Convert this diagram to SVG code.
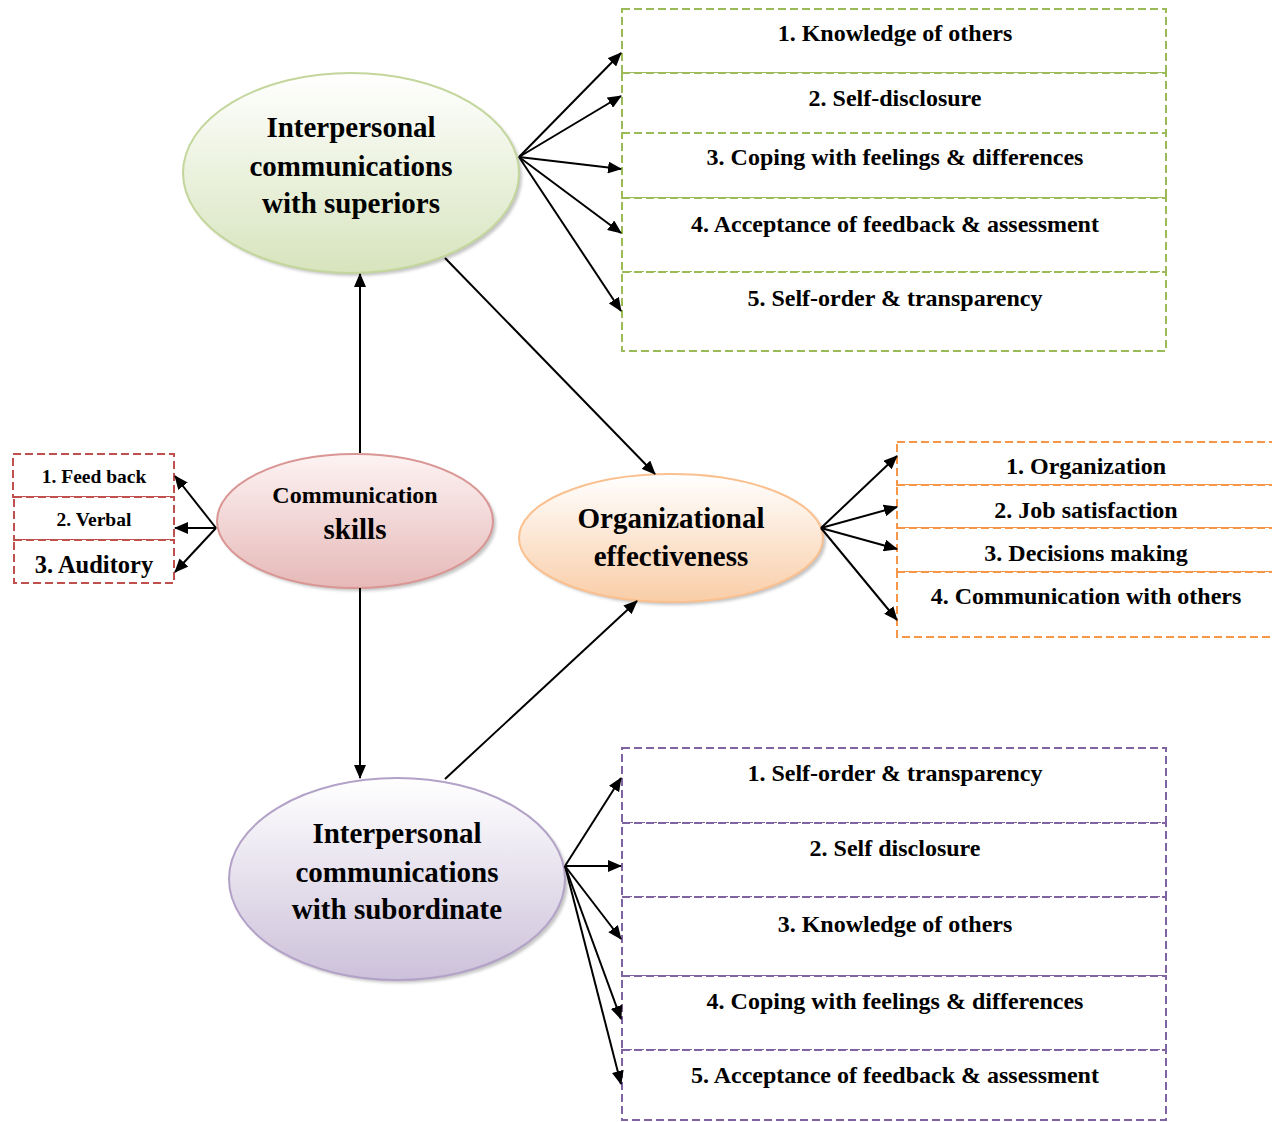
<svg xmlns="http://www.w3.org/2000/svg" width="1272" height="1122" viewBox="0 0 1272 1122">
<style>
text{font-family:"Liberation Serif","Times New Roman",serif;font-weight:bold;fill:#000;text-anchor:middle}
.t20{font-size:24px}
.t26{font-size:29px}
.box{fill:#fff;stroke-width:2;stroke-dasharray:8 4}
.g{stroke:#9bbb59}
.o{stroke:#f79646}
.p{stroke:#8064a2}
.r{stroke:#c0504d}
.con line{stroke:#000;stroke-width:2;marker-end:url(#ah)}
.shadow{fill:#7f7f7f;opacity:0.45;filter:url(#blur)}
</style>
<defs>
<marker id="ah" markerWidth="14" markerHeight="12" refX="13" refY="6" orient="auto" markerUnits="userSpaceOnUse">
<path d="M0,0 L14,6 L0,12 Z" fill="#000"/>
</marker>
<filter id="blur" x="-10%" y="-10%" width="120%" height="120%"><feGaussianBlur stdDeviation="1.5"/></filter>
<linearGradient id="gg" x1="0" y1="0" x2="0" y2="1"><stop offset="0" stop-color="#ffffff"/><stop offset="1" stop-color="#d7e4bd"/></linearGradient>
<linearGradient id="gr" x1="0" y1="0" x2="0" y2="1"><stop offset="0" stop-color="#fdf3f3"/><stop offset="1" stop-color="#e6b9b8"/></linearGradient>
<linearGradient id="go" x1="0" y1="0" x2="0" y2="1"><stop offset="0" stop-color="#ffffff"/><stop offset="1" stop-color="#f9cda7"/></linearGradient>
<linearGradient id="gp" x1="0" y1="0" x2="0" y2="1"><stop offset="0" stop-color="#ffffff"/><stop offset="1" stop-color="#ccc1da"/></linearGradient>
</defs>
<rect width="1272" height="1122" fill="#fff"/>

<g id="superiors-items">
<rect class="box g" x="622" y="9" width="544" height="64"/>
<rect class="box g" x="622" y="73" width="544" height="60"/>
<rect class="box g" x="622" y="133" width="544" height="65"/>
<rect class="box g" x="622" y="198" width="544" height="74"/>
<rect class="box g" x="622" y="272" width="544" height="79"/>
<text class="t20" x="895" y="41">1. Knowledge of others</text>
<text class="t20" x="895" y="106">2. Self-disclosure</text>
<text class="t20" x="895" y="165">3. Coping with feelings &amp; differences</text>
<text class="t20" x="895" y="232">4. Acceptance of feedback &amp; assessment</text>
<text class="t20" x="895" y="306">5. Self-order &amp; transparency</text>
</g>

<g id="skills-items">
<rect class="box r" x="13" y="454" width="161" height="43"/>
<rect class="box r" x="14" y="497" width="160" height="43"/>
<rect class="box r" x="14" y="540" width="160" height="43"/>
<text x="94" y="483" style="font-size:19.5px">1. Feed back</text>
<text x="94" y="526" style="font-size:19.5px">2. Verbal</text>
<text x="94" y="573" style="font-size:24.5px">3. Auditory</text>
</g>

<g id="effectiveness-items">
<rect class="box o" x="897" y="442" width="400" height="43"/>
<rect class="box o" x="897" y="485" width="400" height="43"/>
<rect class="box o" x="897" y="528" width="400" height="44"/>
<rect class="box o" x="897" y="572" width="400" height="65"/>
<text class="t20" x="1086" y="474">1. Organization</text>
<text class="t20" x="1086" y="518">2. Job satisfaction</text>
<text class="t20" x="1086" y="561">3. Decisions making</text>
<text class="t20" x="1086" y="604">4. Communication with others</text>
</g>

<g id="subordinate-items">
<rect class="box p" x="622" y="748" width="544" height="75"/>
<rect class="box p" x="622" y="823" width="544" height="74"/>
<rect class="box p" x="622" y="897" width="544" height="79"/>
<rect class="box p" x="622" y="976" width="544" height="74"/>
<rect class="box p" x="622" y="1050" width="544" height="70"/>
<text class="t20" x="895" y="781">1. Self-order &amp; transparency</text>
<text class="t20" x="895" y="856">2. Self disclosure</text>
<text class="t20" x="895" y="932">3. Knowledge of others</text>
<text class="t20" x="895" y="1009">4. Coping with feelings &amp; differences</text>
<text class="t20" x="895" y="1083">5. Acceptance of feedback &amp; assessment</text>
</g>

<g id="superiors">
<ellipse class="shadow" cx="354" cy="176" rx="168" ry="100"/>
<ellipse cx="351" cy="173" rx="168" ry="100" fill="url(#gg)" stroke="#c3d69b" stroke-width="2"/>
<text class="t26" x="351" y="137">Interpersonal</text>
<text class="t26" x="351" y="176">communications</text>
<text class="t26" x="351" y="213">with superiors</text>
</g>

<g id="skills">
<ellipse class="shadow" cx="358" cy="524" rx="138" ry="67"/>
<ellipse cx="355" cy="521" rx="138" ry="67" fill="url(#gr)" stroke="#d99694" stroke-width="2"/>
<text x="355" y="503" style="font-size:24px">Communication</text>
<text x="355" y="539" style="font-size:29px">skills</text>
</g>

<g id="effectiveness">
<ellipse class="shadow" cx="674" cy="541" rx="152" ry="64"/>
<ellipse cx="671" cy="538" rx="152" ry="64" fill="url(#go)" stroke="#fac090" stroke-width="2"/>
<text class="t26" x="671" y="528">Organizational</text>
<text class="t26" x="671" y="566">effectiveness</text>
</g>

<g id="subordinate">
<ellipse class="shadow" cx="400" cy="882" rx="168" ry="101"/>
<ellipse cx="397" cy="879" rx="168" ry="101" fill="url(#gp)" stroke="#b3a2c7" stroke-width="2"/>
<text class="t26" x="397" y="843">Interpersonal</text>
<text class="t26" x="397" y="882">communications</text>
<text class="t26" x="397" y="919">with subordinate</text>
</g>

<g id="connectors" class="con">
<line x1="519" y1="157" x2="621" y2="53"/>
<line x1="519" y1="157" x2="621" y2="96"/>
<line x1="519" y1="157" x2="621" y2="169"/>
<line x1="519" y1="157" x2="621" y2="233"/>
<line x1="519" y1="157" x2="621" y2="311"/>
<line x1="360" y1="453" x2="360" y2="274"/>
<line x1="360" y1="588" x2="360" y2="778"/>
<line x1="216" y1="528" x2="175" y2="476"/>
<line x1="216" y1="528" x2="175" y2="528"/>
<line x1="216" y1="528" x2="175" y2="572"/>
<line x1="445" y1="258" x2="655" y2="474"/>
<line x1="445" y1="779" x2="637" y2="601"/>
<line x1="821" y1="528" x2="897" y2="456"/>
<line x1="821" y1="528" x2="897" y2="507"/>
<line x1="821" y1="528" x2="897" y2="549"/>
<line x1="821" y1="528" x2="897" y2="620"/>
<line x1="565" y1="866" x2="621" y2="778"/>
<line x1="565" y1="866" x2="621" y2="866"/>
<line x1="565" y1="866" x2="621" y2="939"/>
<line x1="565" y1="866" x2="621" y2="1019"/>
<line x1="565" y1="866" x2="621" y2="1084"/>
</g>
</svg>
